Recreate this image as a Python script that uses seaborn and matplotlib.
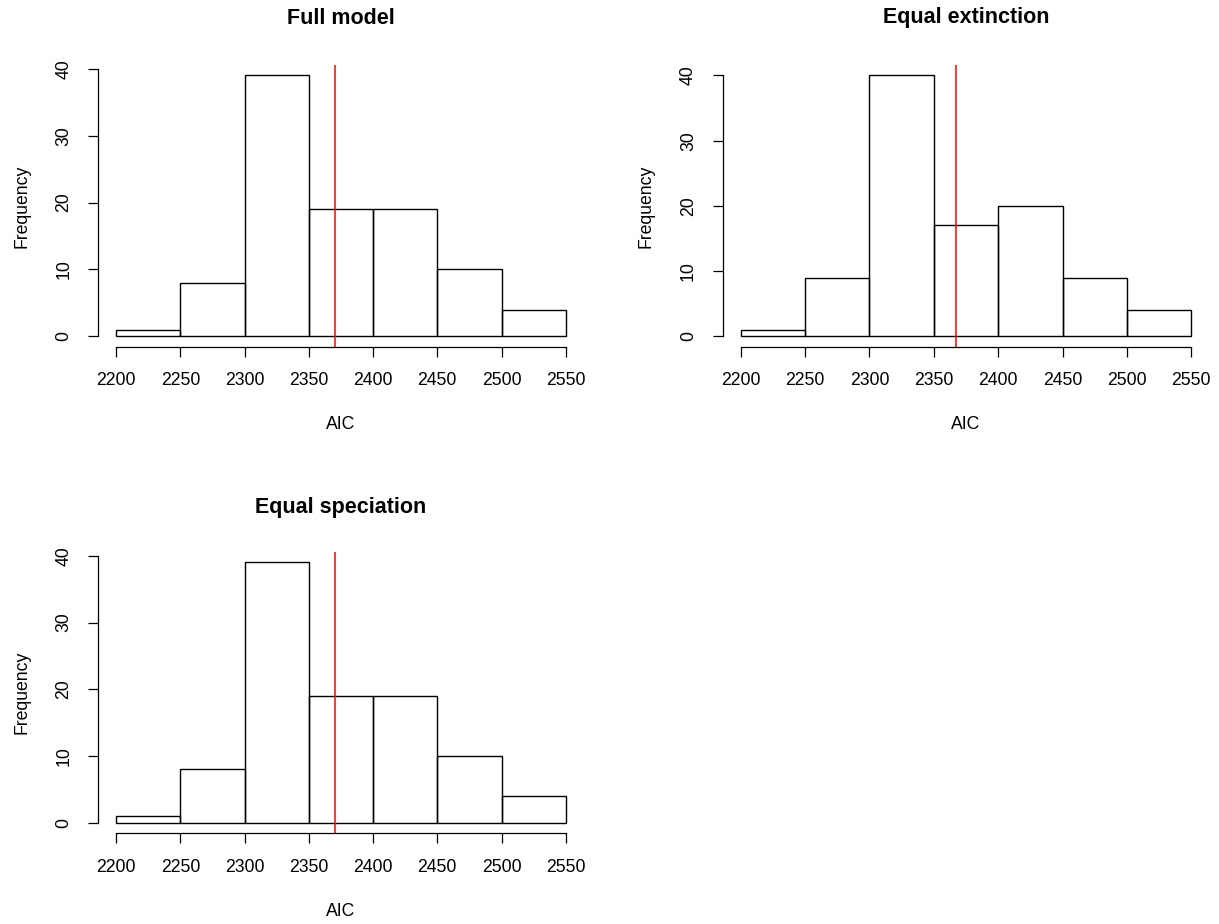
import numpy as np
import matplotlib
matplotlib.use("Agg")
import matplotlib.pyplot as plt
import seaborn as sns

# ─── Data ───
bin_edges = [2200, 2250, 2300, 2350, 2400, 2450, 2500, 2550]
panel_titles = ["Full model", "Equal extinction", "Equal speciation"]
counts_full = [1, 8, 39, 19, 19, 10, 4]
counts_ext = [1, 9, 40, 17, 20, 9, 4]
counts_spec = [1, 8, 39, 19, 19, 10, 4]
observed_aic = [2370, 2367.5, 2370]
y_ticks = [0, 10, 20, 30, 40]
x_ticks = bin_edges

sns.set_style("white")
plt.rcParams['font.family'] = ['Liberation Sans', 'DejaVu Sans']
plt.rcParams['text.color'] = "black"

W, H = 1219, 924
fig = plt.figure(figsize=(W / 100, H / 100), dpi=100)

# plot regions in pixels: left, top, right, bottom
regions = [
    (98.3, 65, 583.7, 346.7),
    (722.7, 65, 1209.3, 346.7),
    (98.3, 552, 583.7, 833.3),
]
title_gap = [46, 47, 44]
all_counts = [counts_full, counts_ext, counts_spec]

mids = [(a + b) / 2 for a, b in zip(bin_edges[:-1], bin_edges[1:])]

for (l, t, r, b), title, counts, aic, tg in zip(regions, panel_titles, all_counts,
                                                observed_aic, title_gap):
    w, h = r - l, b - t
    ax = fig.add_axes([l / W, 1 - b / H, w / W, h / H])
    sns.histplot(x=mids, weights=counts, bins=bin_edges, ax=ax, fill=False,
                 color="black", linewidth=1.0)
    ax.axvline(aic, color="red", linewidth=1.1)

    xr = bin_edges[-1] - bin_edges[0]
    ax.set_xlim(bin_edges[0] - 0.04 * xr, bin_edges[-1] + 0.04 * xr)
    ymax = max(counts)
    ax.set_ylim(-0.04 * ymax, 1.04 * ymax)

    sns.despine(ax=ax)
    ax.spines['left'].set_bounds(y_ticks[0], y_ticks[-1])
    ax.spines['bottom'].set_bounds(x_ticks[0], x_ticks[-1])
    for s in ('left', 'bottom'):
        ax.spines[s].set_color("black")
        ax.spines[s].set_linewidth(0.9)

    ax.set_xticks(x_ticks)
    ax.set_yticks(y_ticks)
    ax.set_yticklabels([str(v) for v in y_ticks], rotation=90, va="center")
    ax.tick_params(axis="both", direction="out", length=7.5, width=0.9,
                   color="black", labelsize=12.7, labelcolor="black", pad=11,
                   left=True, bottom=True)

    ax.set_xlabel("AIC", fontsize=12.7, color="black")
    ax.set_ylabel("Frequency", fontsize=12.7, color="black")
    ax.xaxis.label.set_va("center")
    ax.yaxis.label.set_va("center")
    ax.xaxis.set_label_coords(0.5, -78 / h)
    ax.yaxis.set_label_coords(-76.6 / w, 0.5)
    ax.set_title(title, fontsize=15.5, fontweight="bold", y=1 + tg / h,
                 va="center", pad=0, color="black")
    ax.grid(False)

plt.savefig("out.png", dpi=100, facecolor="white")
plt.close()
